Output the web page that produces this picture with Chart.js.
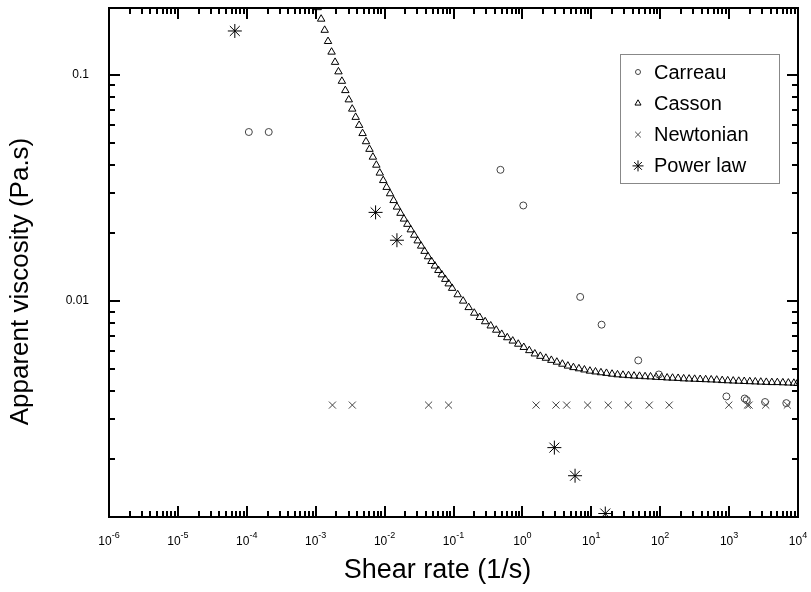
<!DOCTYPE html>
<html>
<head>
<meta charset="utf-8">
<script src="https://cdn.jsdelivr.net/npm/chart.js@4.4.1/dist/chart.umd.min.js"></script>
<style>
  html, body { margin: 0; padding: 0; background: #fff; }
  #wrap { width: 811px; height: 592px; }
</style>
</head>
<body>
<div id="wrap"><canvas id="chart" width="811" height="592"></canvas></div>
<script>
// Carreau (circles)
const carreauX = [1.07e-4, 2.08e-4, 0.48, 1.03, 6.9, 14.1, 48, 95.6, 914, 1683, 1800, 3325, 6764];
const carreauY = [0.056, 0.056, 0.0381, 0.0265, 0.01044, 0.00787, 0.00547, 0.00474, 0.00379, 0.00371, 0.00365, 0.00358, 0.00354];

// Casson (triangles)
const cassonX = [1.07e-3, 1.20e-3, 1.35e-3, 1.51e-3, 1.70e-3, 1.91e-3, 2.14e-3, 2.40e-3, 2.69e-3, 3.02e-3,
  3.39e-3, 3.80e-3, 4.27e-3, 4.79e-3, 5.37e-3, 6.03e-3, 6.76e-3, 7.59e-3, 8.51e-3, 9.55e-3,
  0.0107, 0.0120, 0.0135, 0.0151, 0.0170, 0.0191, 0.0214, 0.0240, 0.0269, 0.0302,
  0.0339, 0.0380, 0.0427, 0.0479, 0.0537, 0.0603, 0.0676, 0.0759, 0.0851, 0.0955,
  0.115, 0.138, 0.166, 0.200, 0.240, 0.288, 0.347, 0.417, 0.501, 0.603,
  0.724, 0.871, 1.047, 1.259, 1.514, 1.82, 2.19, 2.63, 3.16, 3.80,
  4.57, 5.50, 6.61, 7.94, 9.55, 11.5, 13.8, 16.6, 20.0, 24.0,
  28.8, 34.7, 41.7, 50.1, 60.3, 72.4, 87.1, 105, 126, 151,
  182, 219, 263, 316, 380, 457, 550, 661, 794, 955,
  1148, 1380, 1660, 1995, 2399, 2884, 3467, 4169, 5012, 6026,
  7244, 8710, 9800];
const cassonY = [0.199, 0.177, 0.158, 0.141, 0.1265, 0.114, 0.1035, 0.0940, 0.0855, 0.0778,
  0.0708, 0.0651, 0.0600, 0.0552, 0.0508, 0.0470, 0.0434, 0.0400, 0.0369, 0.0342,
  0.0319, 0.0299, 0.0279, 0.0261, 0.0245, 0.0231, 0.0219, 0.0207, 0.0196, 0.0185,
  0.01754, 0.01663, 0.01574, 0.0150, 0.01432, 0.01369, 0.01309, 0.0125, 0.01194, 0.01141,
  0.01069, 0.01002, 0.00938, 0.00886, 0.00848, 0.00812, 0.00778, 0.00745, 0.00714, 0.00690,
  0.00667, 0.00646, 0.00625, 0.00605, 0.00585, 0.00571, 0.00560, 0.00548, 0.00538, 0.00527,
  0.00517, 0.00509, 0.00503, 0.00497, 0.00491, 0.00487, 0.00483, 0.00480, 0.00476, 0.00473,
  0.00471, 0.00469, 0.00467, 0.00466, 0.00464, 0.00463, 0.00461, 0.00460, 0.00458, 0.00457,
  0.00456, 0.00454, 0.00453, 0.00452, 0.00451, 0.00450, 0.00449, 0.00448, 0.00446, 0.00445,
  0.00444, 0.00443, 0.00442, 0.00441, 0.00440, 0.00439, 0.00438, 0.00437, 0.00437, 0.00436,
  0.00435, 0.00434, 0.00433];

// Newtonian (crosses)
const newtonX = [1.75e-3, 3.4e-3, 0.0435, 0.0847, 1.58, 3.07, 4.39, 8.84, 17.6, 34.4, 69.3, 135, 991, 1841, 1950, 3404, 7000];
const newtonY = [0.00347, 0.00347, 0.00347, 0.00347, 0.00347, 0.00347, 0.00347, 0.00347, 0.00347, 0.00347, 0.00347, 0.00347, 0.00347, 0.00347, 0.00347, 0.00347, 0.00347];

// Power law (stars)
const powerX = [6.7e-5, 7.4e-3, 0.0151, 2.91, 5.81, 15.96];
const powerY = [0.1567, 0.0247, 0.0186, 0.00225, 0.00169, 0.00115];

// axes
const xMajor = [1e-6, 1e-5, 1e-4, 1e-3, 1e-2, 1e-1, 1, 10, 100, 1000, 10000];
const xExponents = ['-6', '-5', '-4', '-3', '-2', '-1', '0', '1', '2', '3', '4'];
const yMajor = [0.01, 0.1];
const yMin = 0.00111, yMax = 0.198;
const xTitle = 'Shear rate (1/s)';
const yTitle = 'Apparent viscosity (Pa.s)';

const xMinor = [];
for (let d = -6; d < 4; d++) for (let m = 2; m <= 9; m++) xMinor.push(m * Math.pow(10, d));
const yMinor = [];
for (let d = -3; d < 0; d++) for (let m = 2; m <= 9; m++) {
  const v = m * Math.pow(10, d);
  if (v > yMin && v < yMax) yMinor.push(v);
}

const FONT = '"Liberation Sans", Arial, sans-serif';
const pts = (xs, ys) => xs.map((x, i) => ({ x: x, y: ys[i] }));

// frame + inward ticks on all four sides, tick labels, titles, legend
const framePlugin = {
  id: 'frame',
  beforeDatasetsDraw(chart) {
    const { ctx, chartArea: a, scales: { x, y } } = chart;
    ctx.save();
    ctx.strokeStyle = '#000';
    ctx.lineWidth = 2;
    ctx.strokeRect(a.left, a.top, a.right - a.left, a.bottom - a.top);
    ctx.beginPath();
    const xt = (v, len) => {
      const p = Math.round(x.getPixelForValue(v));
      ctx.moveTo(p, a.bottom); ctx.lineTo(p, a.bottom - len);
      ctx.moveTo(p, a.top); ctx.lineTo(p, a.top + len);
    };
    const yt = (v, len) => {
      const p = Math.round(y.getPixelForValue(v));
      ctx.moveTo(a.left, p); ctx.lineTo(a.left + len, p);
      ctx.moveTo(a.right, p); ctx.lineTo(a.right - len, p);
    };
    xMajor.forEach(v => xt(v, 11));
    xMinor.forEach(v => xt(v, 6));
    yMajor.forEach(v => yt(v, 11));
    yMinor.forEach(v => yt(v, 6));
    ctx.stroke();
    ctx.restore();
  },
  afterDraw(chart) {
    const { ctx, chartArea: a, scales: { x } } = chart;
    ctx.save();
    ctx.fillStyle = '#000';
    ctx.textBaseline = 'alphabetic';
    ctx.textAlign = 'left';
    xMajor.forEach((v, i) => {
      ctx.font = '12px ' + FONT;
      const w1 = ctx.measureText('10').width;
      ctx.font = '9px ' + FONT;
      const w2 = ctx.measureText(xExponents[i]).width;
      const start = x.getPixelForValue(v) - (w1 + w2) / 2;
      ctx.font = '12px ' + FONT;
      ctx.fillText('10', start, a.bottom + 28);
      ctx.font = '9px ' + FONT;
      ctx.fillText(xExponents[i], start + w1, a.bottom + 21);
    });

    // axis titles
    ctx.textAlign = 'center';
    ctx.textBaseline = 'middle';
    ctx.font = '27px ' + FONT;
    ctx.fillText(xTitle, (a.left + a.right) / 2 - 16, a.bottom + 54);
    ctx.font = '26px ' + FONT;
    ctx.save();
    ctx.translate(21, (a.top + a.bottom) / 2 + 19);
    ctx.rotate(-Math.PI / 2);
    ctx.fillText(yTitle, 0, 0);
    ctx.restore();

    // legend box
    const lx = a.right - 178, ly = a.top + 46, lw = 159, lh = 129;
    ctx.strokeStyle = '#888';
    ctx.lineWidth = 1;
    ctx.strokeRect(lx + 0.5, ly + 0.5, lw, lh);
    const sizes = [2.5, 3.5, 4, 5.5];
    ctx.textAlign = 'left';
    chart.data.datasets.forEach((ds, i) => {
      const cy = ly + 18 + i * 31.3;
      ctx.strokeStyle = ds.borderColor;
      ctx.fillStyle = 'rgba(0,0,0,0)';
      ctx.lineWidth = 1;
      Chart.helpers.drawPoint(ctx, { pointStyle: ds.pointStyle, radius: sizes[i], borderWidth: 1, rotation: 0 }, lx + 18, cy);
      ctx.fillStyle = '#000';
      ctx.font = '20px ' + FONT;
      ctx.textBaseline = 'middle';
      ctx.fillText(ds.label, lx + 34, cy + 1);
    });
    ctx.restore();
  }
};

new Chart(document.getElementById('chart'), {
  type: 'scatter',
  data: {
    datasets: [
      { label: 'Carreau', data: pts(carreauX, carreauY), pointStyle: 'circle', pointRadius: 3.5,
        borderColor: '#444', backgroundColor: 'rgba(0,0,0,0)', borderWidth: 1 },
      { label: 'Casson', data: pts(cassonX, cassonY), pointStyle: 'triangle', pointRadius: 4.3,
        borderColor: '#000', backgroundColor: 'rgba(0,0,0,0)', borderWidth: 1 },
      { label: 'Newtonian', data: pts(newtonX, newtonY), pointStyle: 'crossRot', pointRadius: 5,
        borderColor: '#444', backgroundColor: 'rgba(0,0,0,0)', borderWidth: 1 },
      { label: 'Power law', data: pts(powerX, powerY), pointStyle: 'star', pointRadius: 7,
        borderColor: '#000', backgroundColor: 'rgba(0,0,0,0)', borderWidth: 1 }
    ]
  },
  options: {
    responsive: false,
    animation: false,
    devicePixelRatio: 1,
    layout: { padding: { top: 4, right: 13, left: 0, bottom: 0 } },
    plugins: { legend: { display: false }, tooltip: { enabled: false } },
    scales: {
      x: {
        type: 'logarithmic', min: 1e-6, max: 1e4,
        grid: { display: false }, border: { display: false },
        ticks: { display: false },
        afterBuildTicks: s => { s.ticks = xMajor.map(v => ({ value: v })); },
        afterFit: s => { s.height = 75; s.paddingLeft = 0; s.paddingRight = 0; }
      },
      y: {
        type: 'logarithmic', min: yMin, max: yMax,
        grid: { display: false }, border: { display: false },
        ticks: { color: '#000', padding: 12, font: { family: FONT, size: 12 },
          callback: v => String(v) },
        afterBuildTicks: s => { s.ticks = yMajor.map(v => ({ value: v })); },
        afterFit: s => { s.width = 109; s.paddingTop = 0; s.paddingBottom = 0; }
      }
    }
  },
  plugins: [framePlugin]
});
</script>
</body>
</html>
